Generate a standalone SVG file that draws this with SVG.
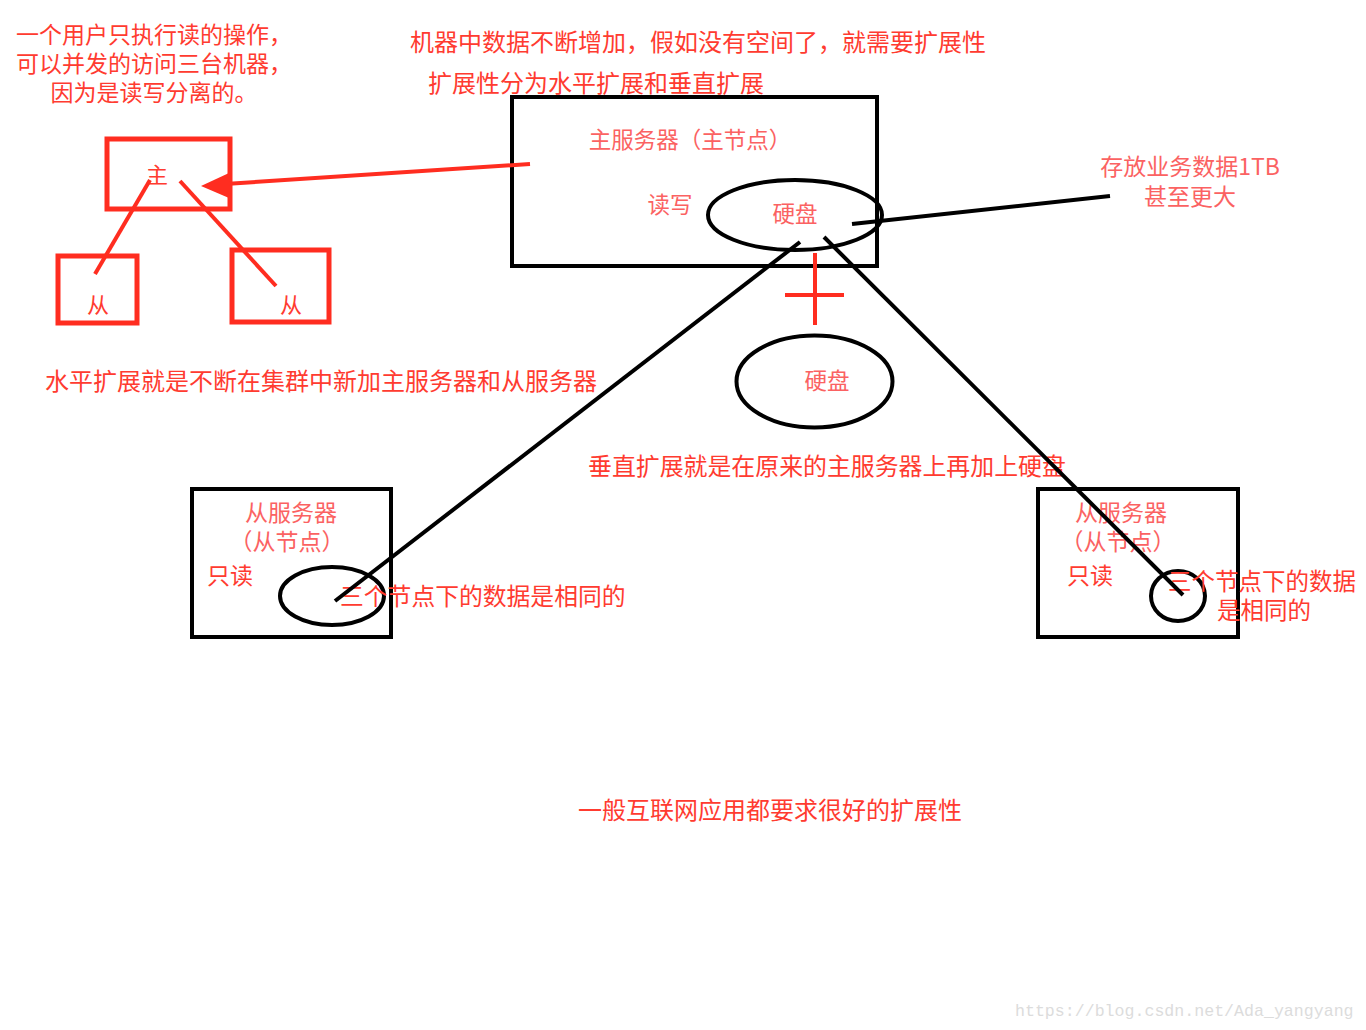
<svg xmlns="http://www.w3.org/2000/svg" width="1366" height="1030" viewBox="0 0 1366 1030">
<style>
.t{font-family:"Noto Sans CJK SC","Noto Sans",sans-serif;fill:#ff3b30;dominant-baseline:central}
.l{fill:#fb6262}
.k{fill:none;stroke:#000;stroke-width:4}
.r{fill:none;stroke:#ff2d20;stroke-width:5}
.c{fill:none;stroke:#000;stroke-width:4;stroke-linecap:butt}
.rc{fill:none;stroke:#ff2d20;stroke-width:4}
</style>
<rect width="1366" height="1030" fill="#fff"/>
<g id="notes">
<text class="t" font-size="23" text-anchor="middle"><tspan x="154" y="33">一个用户只执行读的操作，</tspan><tspan x="154" y="62">可以并发的访问三台机器，</tspan><tspan x="154" y="91">因为是读写分离的。</tspan></text>
<text class="t" x="410" y="40" font-size="24">机器中数据不断增加，假如没有空间了，就需要扩展性</text>
<text class="t" x="428" y="81" font-size="24">扩展性分为水平扩展和垂直扩展</text>
<text class="t" x="45" y="379" font-size="24">水平扩展就是不断在集群中新加主服务器和从服务器</text>
<text class="t" x="588" y="464" font-size="23.9">垂直扩展就是在原来的主服务器上再加上硬盘</text>
<text class="t" x="578" y="808" font-size="24">一般互联网应用都要求很好的扩展性</text>
<text class="t l" font-size="23" text-anchor="middle"><tspan x="1190" y="165">存放业务数据1TB</tspan><tspan x="1190" y="195">甚至更大</tspan></text>
<text x="1015" y="1016" font-family="'Liberation Mono',monospace" font-size="16.6" fill="#dcdcdc">https://blog.csdn.net/Ada_yangyang</text>
</g>
<g id="master-small">
<rect class="r" x="107" y="139" width="123" height="70"/>
<text class="t" x="157" y="173" font-size="22" text-anchor="middle">主</text>
</g>
<g id="slave-small-1">
<rect class="r" x="58" y="256" width="79" height="67"/>
<text class="t" x="98" y="303" font-size="22" text-anchor="middle">从</text>
</g>
<g id="slave-small-2">
<rect class="r" x="232" y="250" width="97" height="72"/>
<text class="t" x="291" y="303" font-size="22" text-anchor="middle">从</text>
</g>
<g id="master-server">
<rect class="k" x="512" y="97" width="365" height="169"/>
<text class="t l" x="690" y="138" font-size="22.5" text-anchor="middle">主服务器（主节点）</text>
<text class="t l" x="670" y="203" font-size="22.5" text-anchor="middle">读写</text>
</g>
<g id="disk-1">
<ellipse class="k" cx="795" cy="215" rx="87" ry="35"/>
<text class="t l" x="795" y="212" font-size="22.5" text-anchor="middle">硬盘</text>
</g>
<g id="plus">
<line class="rc" x1="815" y1="253" x2="815" y2="325"/>
<line class="rc" x1="785" y1="295" x2="844" y2="295"/>
</g>
<g id="disk-2">
<ellipse class="k" cx="814.5" cy="381.5" rx="78" ry="46"/>
<text class="t l" x="827" y="379" font-size="22.5" text-anchor="middle">硬盘</text>
</g>
<g id="slave-server-1">
<rect class="k" x="192" y="489" width="199" height="148"/>
<text class="t l" font-size="23" text-anchor="middle"><tspan x="291" y="511">从服务器</tspan><tspan x="287" y="540">（从节点）</tspan></text>
<text class="t" x="207" y="574" font-size="23">只读</text>
<ellipse class="k" cx="332" cy="596" rx="52" ry="29"/>
<text class="t" x="340" y="594" font-size="23.8">三个节点下的数据是相同的</text>
</g>
<g id="slave-server-2">
<rect class="k" x="1038" y="489" width="200" height="148"/>
<text class="t l" font-size="23" text-anchor="middle"><tspan x="1121" y="511">从服务器</tspan><tspan x="1118" y="540">（从节点）</tspan></text>
<text class="t" x="1067" y="574" font-size="23">只读</text>
<ellipse class="k" cx="1178" cy="596" rx="27" ry="25"/>
<text class="t" font-size="23.5"><tspan x="1168" y="580">三个节点下的数据</tspan><tspan x="1217" y="609">是相同的</tspan></text>
</g>
<g id="connectors">
<line class="rc" x1="530" y1="164" x2="225" y2="184"/>
<polygon points="201,186 229,173 229,198" fill="#ff2d20"/>
<line class="rc" x1="150" y1="180" x2="95" y2="274"/>
<line class="rc" x1="180" y1="181" x2="276" y2="286"/>
<line class="c" x1="852" y1="224" x2="1110" y2="196"/>
<line class="c" x1="800" y1="242" x2="335" y2="601"/>
<line class="c" x1="824" y1="237" x2="1183" y2="595"/>
</g>
</svg>
